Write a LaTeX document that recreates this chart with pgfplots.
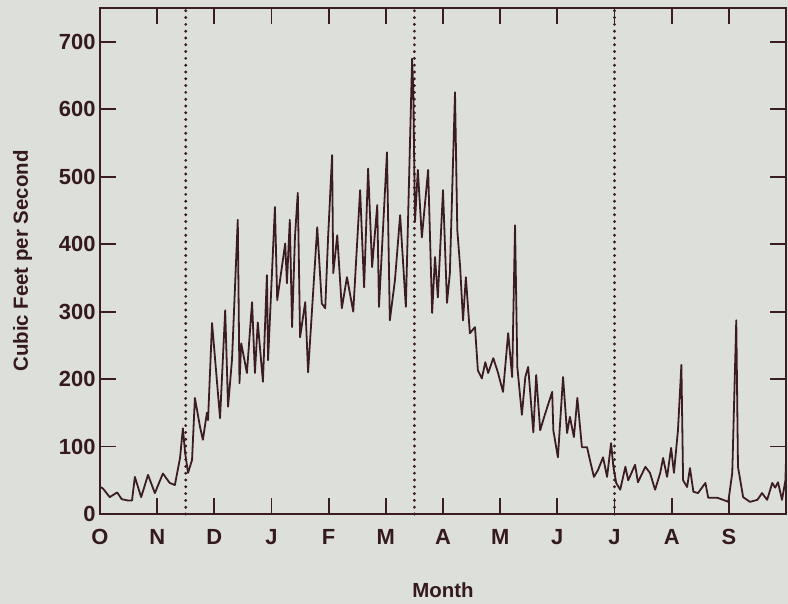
\documentclass[border=0pt]{standalone}
\usepackage{pgfplots}
\pgfplotsset{compat=1.18}
\usepackage{fontspec}
\setmainfont{Liberation Sans}
\definecolor{bgcol}{RGB}{221,223,218}
\definecolor{ink}{RGB}{58,28,34}
\begin{document}
\begin{tikzpicture}
\fill[bgcol] (-100bp,-90bp) rectangle (688bp,514bp);
\begin{axis}[
  scale only axis,
  width=686bp, height=506bp,
  xmin=0, xmax=12, ymin=0, ymax=750,
  xtick={0,1,2,3,4,5,6,7,8,9,10,11},
  xticklabels={O,N,D,J,F,M,A,M,J,J,A,S},
  ytick={0,100,200,300,400,500,600,700},
  tick pos=both,
  tick align=inside,
  major tick length=16bp,
  every tick/.style={ink, line width=1.8bp},
  axis line style={ink, line width=1.8bp},
  /pgf/number format/assume math mode=true,
  ticklabel style={font=\bfseries\fontsize{22}{26}\selectfont, color=ink!90!black},
  xticklabel style={yshift=-12bp},
  yticklabel style={xshift=-1bp},
  xlabel={Month},
  ylabel={Cubic Feet per Second},
  label style={font=\bfseries\fontsize{20.5}{24}\selectfont, color=ink!90!black},
  xlabel style={at={(axis description cs:0.5,0)}, anchor=north, yshift=-65bp},
  ylabel style={at={(axis description cs:-0.094,0.5)}, anchor=south},
  clip=false,
]
\addplot[ink, line width=3.2bp, dash pattern=on 0bp off 6.8bp, line cap=round] coordinates {(1.5,0) (1.5,750)};
\addplot[ink, line width=3.2bp, dash pattern=on 0bp off 6.8bp, line cap=round] coordinates {(5.5,0) (5.5,750)};
\addplot[ink, line width=3.2bp, dash pattern=on 0bp off 6.8bp, line cap=round] coordinates {(9.0,0) (9.0,750)};
\addplot[ink, line width=1.8bp, mark=none, line join=round] coordinates {
(0.00,40) (0.05,38) (0.17,25) (0.30,32) (0.38,22) (0.49,20) (0.56,20) (0.61,55)
(0.72,25) (0.84,58) (0.96,31) (1.10,60) (1.22,46) (1.31,43) (1.40,83) (1.45,127)
(1.49,90) (1.54,61) (1.61,80) (1.66,172) (1.75,129) (1.80,110) (1.87,150) (1.89,139)
(1.96,283) (2.10,142) (2.19,302) (2.24,159) (2.31,230) (2.41,436) (2.44,194) (2.47,253)
(2.50,240) (2.57,209) (2.66,314) (2.71,209) (2.76,284) (2.85,196) (2.92,354) (2.94,228)
(3.06,455) (3.10,317) (3.24,401) (3.27,342) (3.32,436) (3.36,277) (3.41,410) (3.46,476)
(3.50,262) (3.59,314) (3.64,210) (3.80,425) (3.88,312) (3.94,305) (3.99,410) (4.06,532)
(4.08,357) (4.15,413) (4.23,305) (4.32,351) (4.43,300) (4.55,480) (4.62,336) (4.69,512)
(4.76,366) (4.85,458) (4.88,307) (5.02,536) (5.07,287) (5.16,347) (5.25,443) (5.35,307)
(5.46,675) (5.48,628) (5.51,433) (5.56,510) (5.63,410) (5.74,510) (5.81,298) (5.86,381)
(5.91,321) (6.00,480) (6.07,313) (6.12,357) (6.21,625) (6.25,421) (6.30,366) (6.35,287)
(6.40,351) (6.47,268) (6.56,277) (6.61,213) (6.68,201) (6.74,225) (6.79,209) (6.88,231)
(6.96,210) (7.05,181) (7.14,268) (7.21,203) (7.26,428) (7.30,218) (7.38,147) (7.44,203)
(7.49,218) (7.58,121) (7.63,206) (7.70,124) (7.77,144) (7.91,181) (7.93,124) (8.01,84)
(8.10,203) (8.17,120) (8.22,144) (8.29,114) (8.35,172) (8.43,99) (8.52,99) (8.57,80)
(8.64,55) (8.71,65) (8.80,84) (8.87,55) (8.94,105) (8.98,70) (9.03,46) (9.10,36)
(9.19,70) (9.24,50) (9.36,73) (9.41,47) (9.54,70) (9.62,61) (9.71,36) (9.80,61)
(9.85,83) (9.92,55) (9.99,98) (10.04,61) (10.11,124) (10.17,221) (10.20,50) (10.27,40)
(10.32,68) (10.38,33) (10.46,31) (10.59,46) (10.64,24) (10.80,24) (10.90,21) (10.99,18)
(11.06,61) (11.13,287) (11.16,70) (11.25,25) (11.37,18) (11.50,21) (11.58,31) (11.67,21)
(11.76,46) (11.81,39) (11.86,47) (11.93,21) (11.99,50) (12.00,80)
};
\end{axis}
\pgfresetboundingbox
\path (-100bp,-90bp) rectangle (688bp,514bp);
\end{tikzpicture}
\end{document}
